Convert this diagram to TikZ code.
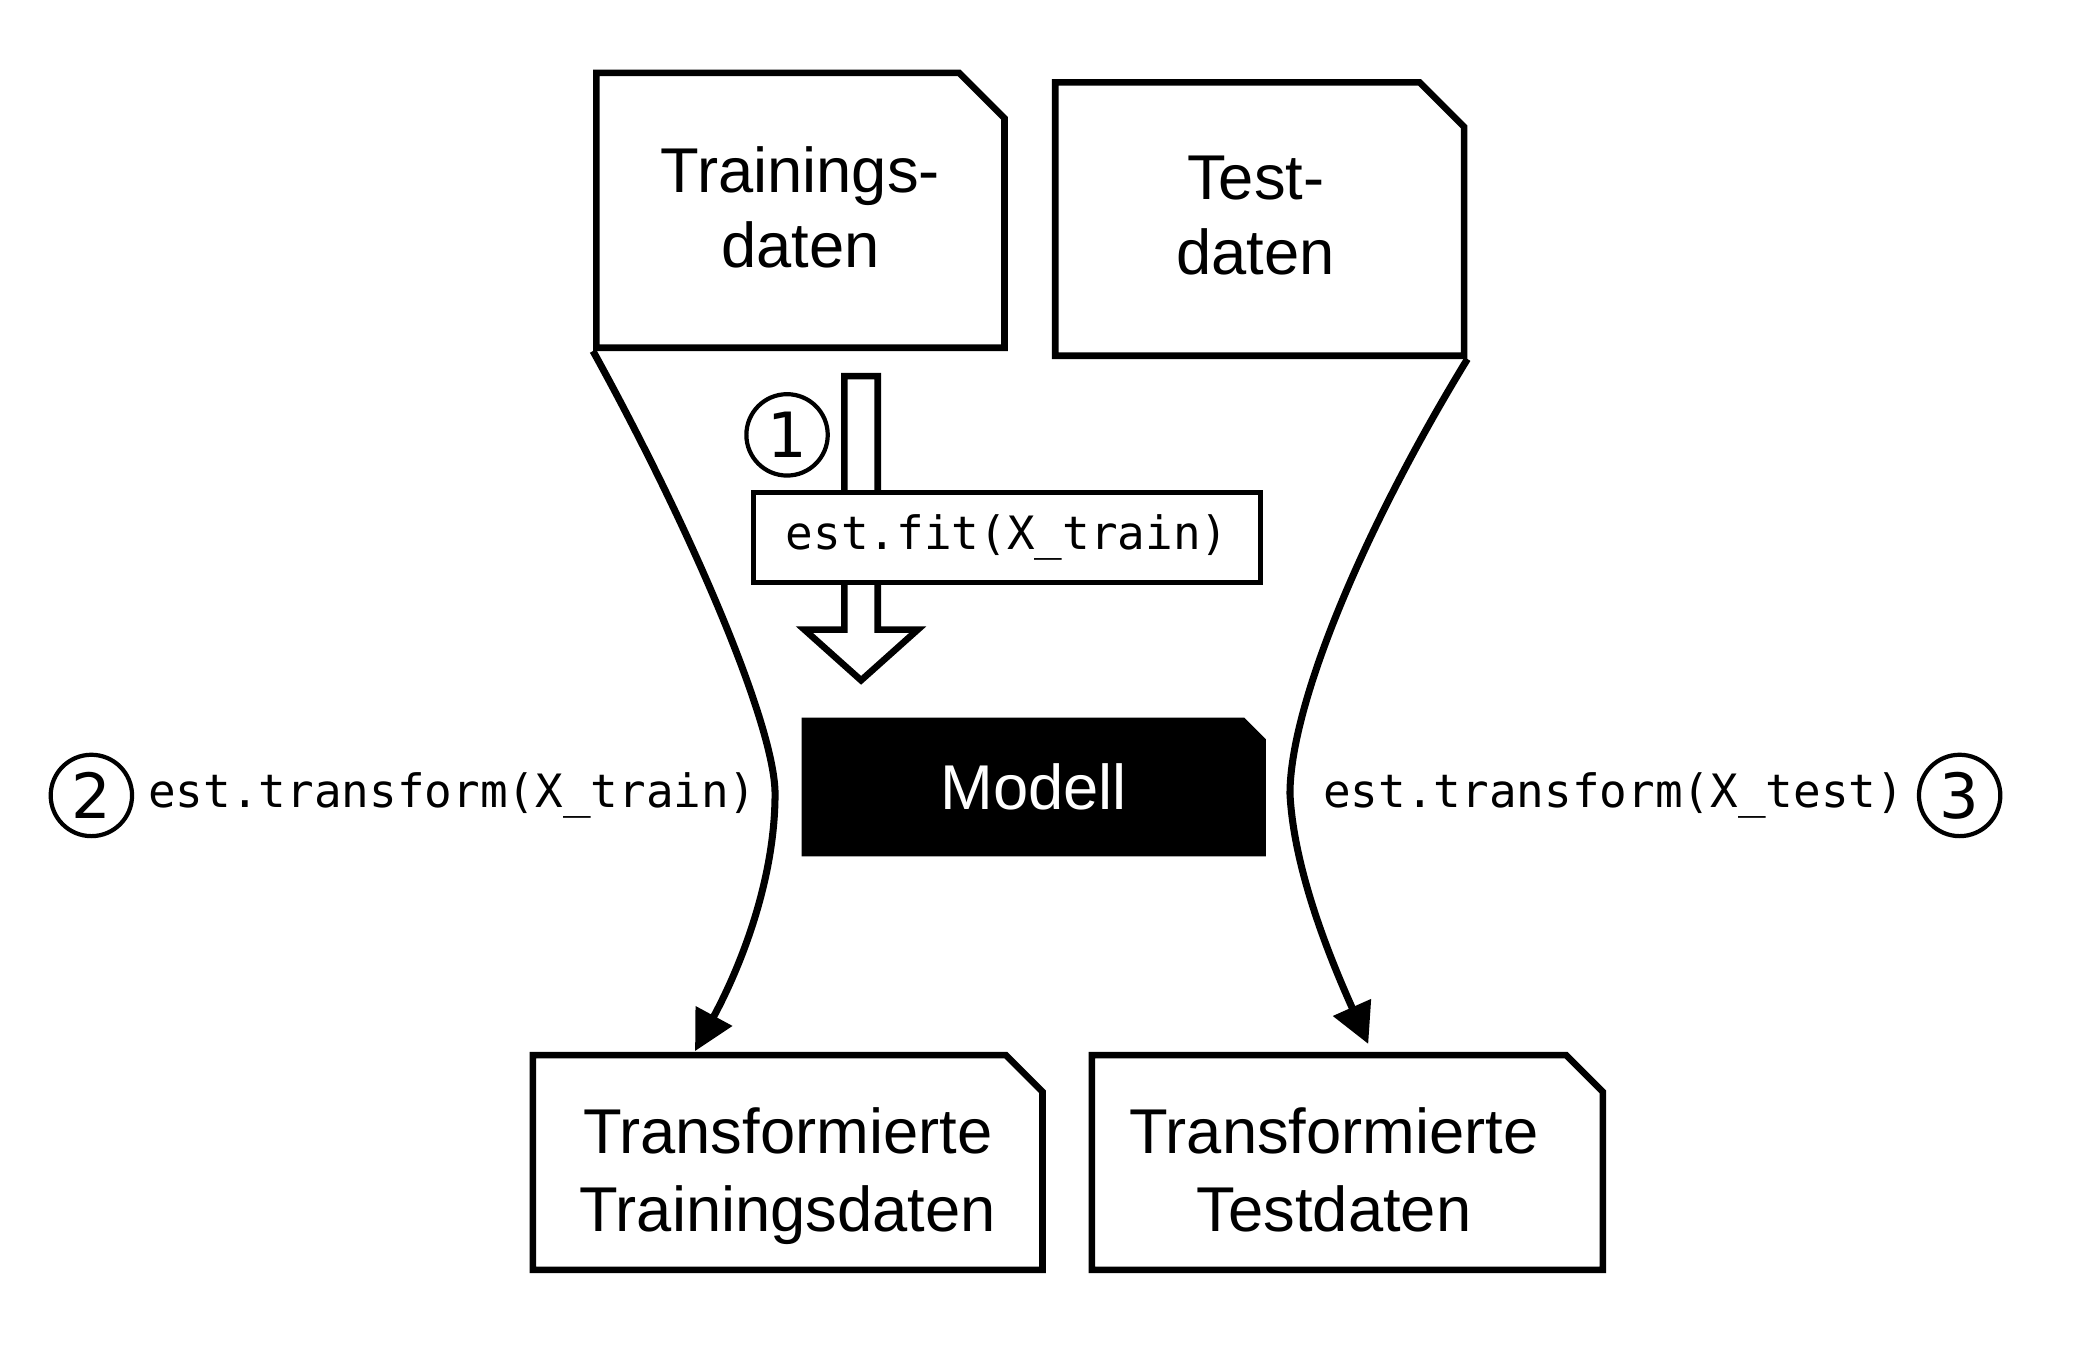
\documentclass[tikz,border=0pt]{standalone}
\usepackage{fontspec}
\setmainfont{Liberation Sans}
\setmonofont{DejaVu Sans Mono}
\newfontfamily\digitfont{DejaVu Sans}
\usetikzlibrary{shapes.misc,arrows.meta,positioning}

\begin{document}
\begin{tikzpicture}[x=1cm, y=-1cm, line width=1.4pt]
    % Styles
    \tikzstyle{doc} = [chamfered rectangle, chamfered rectangle corners=north east, draw, fill=white, align=center, inner sep=0pt, font=\fontsize{13.5}{16}\selectfont, text height=24.2pt, text depth=0pt]
    \tikzstyle{outdoc} = [doc, font=\fontsize{13.5}{16.6}\selectfont, text height=32pt, text depth=2.8pt, minimum height=1.61cm, chamfered rectangle xsep=0.135cm, chamfered rectangle ysep=0.14cm]
    \tikzstyle{call} = [rectangle, draw, fill=white, line width=1.1pt, font=\ttfamily\fontsize{9.8}{12}\selectfont]
    \tikzstyle{code} = [inner sep=0pt, font=\ttfamily\fontsize{9.8}{12}\selectfont]
    \tikzstyle{num} = [circle, draw, line width=0.9pt, minimum size=0.61cm, inner sep=0pt, font=\digitfont\fontsize{13.3}{14}\selectfont]
    \tikzstyle{flow} = [line width=1.5pt, -{Triangle[length=0.3cm,width=0.3cm]}]
    \tikzstyle{hollow} = [draw, fill=white, line join=miter]

    \useasboundingbox (0,0) rectangle (15.6,10.14);

    % Input data
    \node [doc, minimum width=3.06cm, minimum height=2.06cm, chamfered rectangle xsep=0.175cm, chamfered rectangle ysep=0.165cm] (train) at (6.00,1.577) {Trainings-\\daten};
    \node [doc, minimum width=3.065cm, minimum height=2.05cm, chamfered rectangle xsep=0.17cm, chamfered rectangle ysep=0.165cm, text height=23.8pt] (test) at (9.443,1.642) {\hspace*{-0.06cm}Test-\\\hspace*{-0.06cm}daten};

    % Fit step
    \draw [hollow] (6.33,2.82) -- (6.58,2.82) -- (6.58,4.72) -- (6.88,4.72) -- (6.455,5.10) -- (6.03,4.72) -- (6.33,4.72) -- cycle;
    \node [call, minimum width=3.80cm, minimum height=0.672cm] (fit) at (7.55,4.028) {est.fit(X\_train)};
    \node [num] (one) at (5.90,3.26) {1};

    % Model
    \node [doc, draw=none, fill=black, text=white, text height=, text depth=, minimum width=3.48cm, minimum height=1.04cm, chamfered rectangle xsep=0.08cm, chamfered rectangle ysep=0.083cm] (model) at (7.75,5.90) {Modell};

    % Output data
    \node [outdoc, minimum width=3.82cm] (ttrain) at (5.905,8.715) {Transformierte\\Trainingsdaten};
    \node [outdoc, minimum width=3.83cm] (ttest) at (10.10,8.715) {\hspace*{-0.2cm}Transformierte\\\hspace*{-0.2cm}Testdaten};

    % Transform steps
    \coordinate (ltip) at (5.21,7.88);
    \coordinate (rtip) at (10.257,7.826);
    \draw [flow] (train.south west) .. controls (5.20,4.00) and (5.81,5.45) .. (5.81,5.95) .. controls (5.81,6.60) and (5.55,7.25) .. (ltip);
    \draw [flow] (test.south east) .. controls (10.20,4.00) and (9.67,5.30) .. (9.67,5.95) .. controls (9.70,6.55) and (10.00,7.25) .. (rtip);

    % Labels
    \node [num] (two) at (0.685,5.963) {2};
    \node [code, right=0.08cm of two] (xtrain) {est.transform(X\_train)};
    \node [num] (three) at (14.69,5.963) {3};
    \node [code, left=0.07cm of three] (xtest) {est.transform(X\_test)};

\end{tikzpicture}
\end{document}
